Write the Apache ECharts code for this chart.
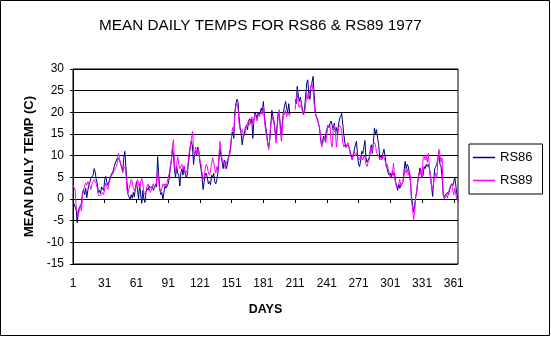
<!DOCTYPE html>
<html>
<head>
<meta charset="utf-8">
<script src="https://cdn.jsdelivr.net/npm/echarts@6/dist/echarts.min.js"></script>
<style>
html,body{margin:0;padding:0;background:#fff;}
#chart{width:551px;height:337px;}
</style>
</head>
<body>
<div id="chart"></div>
<script>
// Day numbers 1..365
var days = [];
for (var d = 1; d <= 365; d++) days.push(d);

var xTickLabels = ['1','31','61','91','121','151','181','211','241','271','301','331','361'];
var yTicks = [-15,-10,-5,0,5,10,15,20,25,30];

// RS86 mean daily temperature (C), 1977 (days 207-210 missing)
var rs86 = [
 -0.5,-1.2,-0.8,-2.5,-5.5,-3.0,-2.0,-2.3,-1.0,1.5,
 2.2,1.0,2.5,0.3,2.0,3.2,4.0,4.8,4.5,5.5,
 7.0,6.2,4.5,3.5,1.5,2.0,1.2,2.8,3.0,2.0,
 4.5,5.2,3.8,3.2,4.0,4.8,5.5,6.0,6.5,7.5,
 8.3,8.5,9.5,9.8,9.0,8.2,8.0,6.5,9.5,11.0,
 7.5,4.0,1.0,0.5,-0.2,1.0,0.2,1.5,0.5,2.5,
 4.0,2.0,0.0,3.5,1.0,-1.0,2.0,0.0,-0.8,1.5,
 2.5,2.0,3.0,2.5,2.2,3.0,2.0,2.5,3.5,2.8,
 9.8,5.5,2.5,1.0,1.5,-0.2,1.5,3.0,2.5,3.0,
 3.5,4.8,7.0,9.0,11.5,10.0,6.5,5.0,7.5,6.0,
 5.5,3.0,6.0,7.0,5.5,7.5,6.0,5.0,5.5,8.0,
 10.0,12.5,13.3,12.0,8.0,10.5,11.0,10.0,12.0,11.0,
 8.5,7.0,5.0,2.2,4.0,5.5,6.0,5.0,3.5,4.0,
 3.3,5.5,5.0,6.0,4.0,3.5,4.5,6.0,9.0,11.5,
 10.0,8.5,7.0,9.0,8.5,7.0,8.0,9.5,10.5,12.0,
 14.5,15.5,14.0,20.0,22.0,23.0,22.5,19.0,16.5,15.0,
 12.5,14.5,15.0,16.5,17.0,16.0,18.0,18.5,17.5,18.5,
 14.0,18.0,20.0,19.5,18.5,20.0,19.5,20.0,21.0,20.0,
 22.5,19.0,17.0,15.5,13.0,12.0,13.5,17.0,20.5,19.0,
 18.0,16.0,14.0,17.0,20.0,19.5,17.0,15.0,18.0,20.0,
 21.5,22.5,21.0,20.0,22.0,19.5,null,null,null,null,
 23.0,22.0,26.0,24.0,22.5,23.5,22.0,20.5,19.5,21.0,
 24.0,26.8,27.5,24.0,23.0,26.0,27.0,28.3,24.0,20.0,
 19.0,18.5,17.5,16.5,14.0,12.5,13.5,14.5,13.5,15.0,
 16.0,17.0,16.5,17.5,18.0,17.0,16.0,17.5,15.5,16.5,
 15.0,17.0,18.5,19.0,19.8,19.5,15.0,13.0,12.0,12.5,
 12.5,12.0,11.0,10.0,9.5,10.0,11.5,12.5,13.3,10.0,
 8.0,7.5,9.0,11.0,10.5,12.0,13.5,9.5,8.5,9.0,
 9.5,11.0,12.5,10.5,13.0,16.4,15.0,16.0,14.0,12.5,
 9.5,10.0,9.5,10.5,11.5,10.0,8.0,7.0,6.0,5.5,
 6.0,5.0,6.5,5.5,6.0,4.0,3.0,2.0,3.5,2.5,
 3.0,3.5,4.0,6.5,8.7,7.0,8.0,7.5,6.0,4.0,
 0.6,-1.0,-3.0,-1.5,0.5,1.5,4.0,5.5,7.2,6.0,
 5.0,5.5,7.5,7.0,8.0,7.5,8.0,7.0,5.0,3.0,
 0.6,4.0,7.0,7.5,8.0,9.5,10.0,8.0,7.5,5.0,
 1.0,0.5,1.0,0.8,1.5,1.0,2.0,3.0,3.5,3.0,
 4.0,5.0,3.0,1.0,-0.5
];

// RS89 mean daily temperature (C), 1977 (days 207-210 missing)
var rs89 = [
 3.3,3.0,2.0,-1.7,-3.0,-4.0,-2.5,-1.5,-2.8,1.0,
 2.0,3.0,3.7,3.2,4.0,4.3,3.0,2.2,3.5,4.0,
 4.5,4.0,3.5,2.5,0.8,0.4,0.8,1.0,1.5,1.0,
 2.5,3.7,3.0,2.2,3.5,4.5,5.2,5.0,6.0,6.6,
 6.6,7.5,8.5,10.6,9.0,8.0,7.5,6.0,7.0,7.5,
 6.0,2.0,1.5,2.5,3.5,4.5,4.0,2.5,2.0,2.5,
 3.0,4.5,3.5,2.5,4.0,4.8,3.5,1.5,1.0,1.8,
 3.0,3.5,2.5,1.5,2.0,3.0,3.5,2.5,3.0,4.0,
 6.4,4.0,2.0,1.5,2.5,3.5,3.0,3.5,3.0,3.8,
 4.0,6.0,7.5,9.0,12.0,13.7,8.0,6.0,8.0,9.8,
 8.0,7.0,7.5,8.0,7.0,7.5,6.0,6.5,6.0,9.0,
 11.0,12.0,14.0,15.6,11.5,10.0,12.0,10.5,11.5,11.0,
 9.0,8.0,6.0,4.5,5.0,7.0,8.0,7.5,6.0,5.5,
 6.5,8.0,9.5,8.5,7.0,6.0,7.5,6.5,10.0,13.3,
 11.0,9.0,8.5,8.0,7.0,8.5,9.0,9.5,10.0,11.4,
 15.0,16.5,15.5,19.0,21.5,22.0,21.0,17.5,16.0,15.5,
 16.0,15.0,14.5,15.5,17.0,17.5,18.0,17.0,18.5,19.0,
 17.0,18.5,19.5,19.0,18.0,19.5,19.0,19.5,20.0,19.5,
 21.4,18.0,16.0,14.5,13.0,11.4,14.0,17.5,18.0,19.0,
 17.5,15.5,12.9,16.0,19.0,20.6,16.0,13.3,16.5,20.0,
 19.5,20.5,19.0,20.0,19.5,19.0,null,null,null,null,
 20.6,23.0,24.5,22.0,21.0,20.6,22.0,19.8,19.5,20.0,
 22.0,24.5,23.0,24.0,25.0,26.0,26.8,25.0,22.0,20.0,
 19.0,18.0,17.5,16.5,15.0,12.0,11.8,13.5,14.0,13.0,
 15.0,17.0,16.5,17.0,13.0,12.0,16.0,17.0,16.0,12.0,
 14.0,16.5,17.0,16.8,16.0,13.0,12.0,12.5,11.8,12.5,
 13.0,12.0,10.5,9.5,9.0,10.5,11.0,10.0,10.5,10.0,
 9.5,9.0,10.0,9.5,9.0,10.0,9.5,8.0,7.5,8.5,
 9.0,11.0,12.0,11.0,12.5,13.0,12.5,10.5,10.6,10.0,
 9.0,9.5,9.0,10.0,10.0,9.0,7.5,8.0,7.0,6.0,
 5.0,4.8,5.5,8.3,5.0,3.7,2.5,2.2,3.5,4.5,
 3.0,3.5,4.0,5.5,6.8,6.0,7.0,5.5,6.5,5.0,
 -0.5,-2.0,-4.8,-3.0,0.5,2.0,4.5,6.0,5.5,6.8,
 5.0,9.5,10.0,9.0,10.0,8.5,10.6,7.0,5.5,3.0,
 2.0,4.0,5.0,6.0,5.0,9.0,11.5,10.0,8.5,9.5,
 1.0,0.0,0.5,1.0,0.2,1.5,2.5,3.0,3.5,2.0,
 1.0,2.5,1.0,0.0,-0.5
];

var FONT = 'Arial, "Liberation Sans", sans-serif';
var chart = echarts.init(document.getElementById('chart'), null, {renderer: 'canvas'});

function isTick(idx, val) { return xTickLabels.indexOf(String(val)) >= 0; }

chart.setOption({
  animation: false,
  backgroundColor: '#fff',
  graphic: [{
    type: 'rect', silent: true,
    shape: {x: 0.5, y: 0.5, width: 549, height: 335},
    style: {fill: 'none', stroke: '#000', lineWidth: 1}
  }],
  title: {
    text: 'MEAN DAILY TEMPS FOR RS86 & RS89 1977',
    left: 99, top: 18, padding: 0,
    textStyle: {fontFamily: FONT, fontSize: 15.3, fontWeight: 'normal', color: '#000'}
  },
  legend: {
    orient: 'vertical',
    left: 469, top: 144,
    padding: [6, 10, 6, 4],
    itemGap: 8,
    itemWidth: 22, itemHeight: 1.5,
    itemTextGap: 7,
    icon: 'rect',
    borderColor: '#000', borderWidth: 1,
    textStyle: {fontFamily: FONT, fontSize: 13, color: '#000', lineHeight: 15},
    data: ['RS86', 'RS89']
  },
  grid: {
    left: 73, top: 69, width: 385, height: 195,
    show: true, borderColor: '#000', borderWidth: 1, backgroundColor: 'transparent'
  },
  xAxis: {
    type: 'category',
    data: days,
    boundaryGap: false,
    name: 'DAYS',
    nameLocation: 'middle',
    nameGap: 39,
    nameTextStyle: {fontFamily: FONT, fontSize: 12.5, fontWeight: 'bold', color: '#000'},
    axisLine: {lineStyle: {color: '#000', width: 1}},
    axisTick: {show: true, interval: isTick, length: 4, lineStyle: {color: '#000'}},
    axisLabel: {interval: isTick, margin: 14, fontFamily: FONT, fontSize: 12, color: '#000'},
    splitLine: {show: false}
  },
  yAxis: {
    type: 'value',
    min: -15, max: 30, interval: 5,
    name: 'MEAN DAILY TEMP (C)',
    nameLocation: 'middle',
    nameGap: 36,
    nameTextStyle: {fontFamily: FONT, fontSize: 13, fontWeight: 'bold', color: '#000'},
    axisLine: {show: true, lineStyle: {color: '#000', width: 1}},
    axisTick: {show: true, length: 3, lineStyle: {color: '#000'}},
    axisLabel: {margin: 9, fontFamily: FONT, fontSize: 12, color: '#000'},
    splitLine: {show: true, lineStyle: {color: '#000', width: 1}}
  },
  series: [
    {name: 'RS86', type: 'line', data: rs86, symbol: 'none', connectNulls: false,
     color: '#000080', lineStyle: {color: '#000080', width: 1}},
    {name: 'RS89', type: 'line', data: rs89, symbol: 'none', connectNulls: false,
     color: '#FF00FF', lineStyle: {color: '#FF00FF', width: 1}}
  ]
});
</script>
</body>
</html>
